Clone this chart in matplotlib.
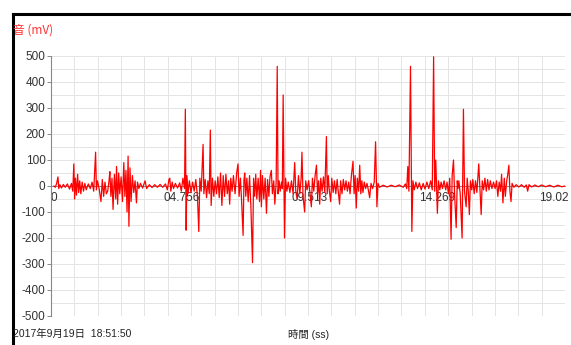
#!/usr/bin/env python3

import numpy as np
import matplotlib.pyplot as plt
from matplotlib.lines import Line2D
from matplotlib.transforms import ScaledTranslation

# signal: time (s), value (mV)
t = [0.00, 0.05, 0.10, 0.15, 0.18, 0.22, 0.28, 0.35, 0.42, 0.50, 0.58, 0.65, 0.70, 0.74, 0.77, 0.80,
     0.84, 0.88, 0.92, 0.96, 1.00, 1.05, 1.10, 1.15, 1.20, 1.28, 1.35, 1.42, 1.48, 1.55, 1.58, 1.62,
     1.68, 1.75, 1.80, 1.85, 1.90, 1.95, 2.00, 2.05, 2.08, 2.12, 2.16, 2.20, 2.25, 2.30, 2.33, 2.37,
     2.41, 2.45, 2.50, 2.55, 2.60, 2.64, 2.68, 2.72, 2.76, 2.79, 2.83, 2.87, 2.92, 2.97, 3.02, 3.07,
     3.11, 3.16, 3.22, 3.30, 3.39, 3.45, 3.55, 3.65, 3.75, 3.85, 3.95, 4.05, 4.15, 4.22, 4.28, 4.31,
     4.35, 4.40, 4.45, 4.52, 4.60, 4.68, 4.74, 4.80,
     4.86, 4.89, 4.92, 4.95, 4.99, 5.04, 5.10, 5.16, 5.22, 5.28, 5.34, 5.39, 5.43, 5.48, 5.55, 5.58,
     5.63, 5.68, 5.73, 5.78, 5.82, 5.85, 5.90, 5.95, 6.00, 6.05, 6.10, 6.15, 6.20, 6.25, 6.30, 6.35,
     6.40, 6.45, 6.50, 6.54, 6.58, 6.63, 6.68, 6.74, 6.80, 6.85, 6.89, 6.94, 6.98, 7.04, 7.07, 7.10,
     7.14, 7.18, 7.23, 7.28, 7.33, 7.39, 7.43, 7.47, 7.51, 7.55, 7.60, 7.65, 7.69, 7.72, 7.76, 7.81,
     7.86, 7.91, 7.95, 8.00, 8.04, 8.09, 8.13, 8.18, 8.22, 8.27, 8.31, 8.34, 8.38, 8.42, 8.47, 8.50,
     8.53, 8.58, 8.62, 8.67, 8.72, 8.78, 8.84, 8.90, 8.96, 9.00, 9.05, 9.10, 9.15, 9.20, 9.23, 9.27,
     9.33, 9.37, 9.42,
     9.48, 9.53, 9.58, 9.62, 9.67, 9.72, 9.77, 9.81, 9.85, 9.89, 9.93, 9.98, 10.03, 10.08, 10.14, 10.17,
     10.21, 10.25, 10.30, 10.34, 10.39, 10.44, 10.49, 10.54, 10.58, 10.63, 10.67, 10.72, 10.77, 10.82,
     10.87, 10.92, 10.97, 11.02, 11.07, 11.13, 11.17, 11.21, 11.25, 11.29, 11.34, 11.38, 11.42, 11.46,
     11.50, 11.55, 11.60, 11.65, 11.70, 11.75, 11.80, 11.86, 11.92, 11.97, 12.02, 12.06, 12.12, 12.25,
     12.40, 12.55, 12.70, 12.85, 13.00, 13.08, 13.13, 13.17, 13.21, 13.27, 13.32, 13.36, 13.41, 13.47,
     13.53, 13.60, 13.67, 13.74, 13.81, 13.88, 13.95, 14.02, 14.08, 14.13, 14.17, 14.21, 14.25, 14.27,
     14.31, 14.36, 14.41,
     14.46, 14.52, 14.58, 14.63, 14.68, 14.73, 14.78, 14.82, 14.87, 14.91, 14.97, 15.01, 15.04, 15.07,
     15.12, 15.19, 15.24, 15.28, 15.34, 15.38, 15.42, 15.46, 15.50, 15.55, 15.59, 15.64, 15.69, 15.74,
     15.81, 15.86, 15.90, 15.94, 15.99, 16.04, 16.09, 16.14, 16.19, 16.24, 16.30, 16.36, 16.42, 16.47,
     16.52, 16.57, 16.62, 16.66, 16.71, 16.76, 16.80, 16.85, 16.89, 16.93, 16.97, 17.01, 17.05, 17.12,
     17.20, 17.30, 17.40, 17.50, 17.58, 17.63, 17.68, 17.78, 17.90, 18.02, 18.15, 18.30, 18.45, 18.60,
     18.75, 18.90, 19.02]
mv = [0, -5, 10, 35, -10, 5, -8, 6, -5, 8, -12, 10, -20, 85, -50, 30,
      -35, 45, -25, 20, -30, 15, -20, 10, -15, 8, -10, 15, -20, 130, -15, 20,
      -10, -60, 25, -40, 15, -30, -20, 20, 55, -40, 30, -90, 45, -50, 75, -70,
      50, -30, 35, -60, 90, -40, 60, -100, 115, -155, 70, -60, 40, -25, 20, -65,
      15, -10, 10, -8, 20, -10, 5, -6, 5, -5, 6, -5, 8, -15, 25, 30,
      -20, 15, -10, 10, -8, 12, -20, 30,
      -10, 295, -170, 40, -30, 20, -25, 15, -20, 25, -40, -175, 30, -20, 160, -30,
      25, -45, 20, -30, 215, -75, 30, -40, 20, -30, 35, -45, 50, -75, 40, -40,
      45, -30, 20, -70, 30, -20, 40, -30, 50, 85, -40, 30, -50, -190, 20, 50,
      -40, 30, -60, 40, -80, -295, 30, -40, 45, -50, 30, -60, 60, -80, 40, -50,
      30, -105, 25, -40, 35, 60, -30, 20, -70, 15, 460, -30, 20, -20, 15, -10,
      350, -200, 30, -20, 15, -25, 20, -30, 90, -20, -50, 40, -30, 30, 130, -40,
      -100, 20, -15,
      20, -30, -80, 30, -20, 40, 80, -30, 20, -70, 30, -20, 35, -25, 190, -30,
      40, -20, -60, 30, -25, 20, -30, 25, -20, -70, 20, -30, 25, -15,
      20, -20, 15, -30, 40, 95, -30, 40, -85, 30, -20, 80, -30, 20,
      -25, 15, -10, 10, -15, -45, 10, -10, 15, 170, -80, 10, -5, 3,
      -4, 3, -3, 4, -5, 8, -10, 75, -20, 460, -175, 20, -15, 15,
      -10, 12, -15, 10, -12, 15, -10, 20, -15, 497, -20, 100, -30, -105,
      20, -15, 15,
      -10, 20, -15, 15, -30, 30, -205, 40, 100, -30, -160, 20, -10, 20,
      -30, -200, 295, -20, -80, 30, -20, -110, 20, -15, 25, -30, 20, -25,
      85, -20, -110, 20, -15, 30, -20, 25, -15, 20, -10, 15, -10, 20,
      -40, 15, -20, 45, -65, 30, -40, 20, 45, 80, -20, -60, 10, -5,
      5, -4, 5, -5, 4, -20, 5, -4, 4, -3, 4, -3, 3, -4,
      3, -3, 0]

xtick_vals = [0, 4.756, 9.513, 14.269, 19.02]
xtick_labels = ['0', '04.756', '09.513', '14.269', '19.02']
ytick_vals = list(range(-500, 501, 100))

narrow = ['Liberation Sans Narrow', 'Liberation Sans', 'Noto Sans CJK JP', 'DejaVu Sans']
plt.rcParams['font.family'] = narrow

fig = plt.figure(figsize=(5.71, 3.45), dpi=100)
ax = fig.add_axes([0.0893, 0.0841, 0.9002, 0.7536])

xmin, xmax = -0.11, 19.02
ax.set_xlim(xmin, xmax)
ax.set_ylim(-500, 500)

# light grid
for gx in np.linspace(xmin, xmax, 23)[1:]:
    ax.axvline(gx, color='#e4e4e4', lw=0.7, zorder=0)
for gy in range(-500, 501, 50):
    ax.axhline(gy, color='#e4e4e4', lw=0.7, zorder=0)

ax.plot(t, mv, color='#ff0000', lw=0.9, zorder=3)

ax.spines['top'].set_visible(False)
ax.spines['right'].set_visible(False)
ax.spines['bottom'].set_position(('data', 0))
ax.spines['bottom'].set_color('#888888')
ax.spines['bottom'].set_linewidth(0.7)
ax.spines['left'].set_color('#888888')
ax.spines['left'].set_linewidth(0.8)

ax.set_yticks(ytick_vals)
ax.set_yticklabels([str(v) for v in ytick_vals])
ax.tick_params(axis='y', length=3, width=0.7, color='#888888', pad=1,
               labelsize=8.5, labelcolor='#333333')
ax.set_xticks(xtick_vals)
ax.set_xticklabels(xtick_labels)
ax.tick_params(axis='x', length=0, pad=4, labelsize=8.5, labelcolor='#333333')
# last label sits at the right edge, nudge it in
last = ax.get_xticklabels()[-1]
last.set_transform(last.get_transform() + ScaledTranslation(-8 / 72, 0, fig.dpi_scale_trans))

fig.text(13 / 571, 1 - 30 / 345, '音 (mV)', color='#ff3030', fontsize=8.5,
         ha='left', va='center', family=['Noto Sans CJK JP', 'DejaVu Sans'])
fig.text(13 / 571, 1 - 334 / 345, '2017年9月19日  18:51:50', color='#222222',
         fontsize=7.5, ha='left', va='center', family=narrow)
fig.text(288 / 571, 1 - 334 / 345, '時間 (ss)', color='#222222',
         fontsize=7.5, ha='left', va='center', family=narrow)

# black frame on top and left
fig.add_artist(Line2D([12.5 / 571, 1], [1 - 13.5 / 345, 1 - 13.5 / 345],
                      transform=fig.transFigure, color='black', lw=2.2))
fig.add_artist(Line2D([12.5 / 571, 12.5 / 571], [0, 1 - 13.5 / 345],
                      transform=fig.transFigure, color='black', lw=2.2))

fig.savefig('out.png', dpi=100)
